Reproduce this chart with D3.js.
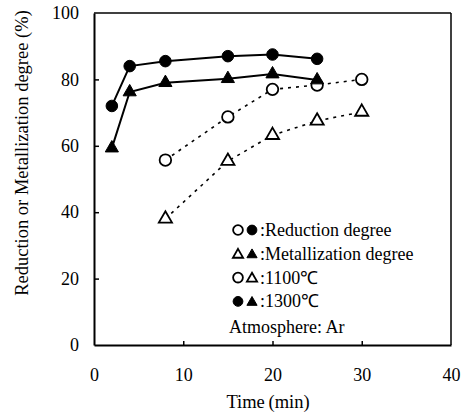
<!DOCTYPE html>
<html>
<head>
<meta charset="utf-8">
<script src="https://cdn.jsdelivr.net/npm/d3@7"></script>
<style>
body { margin: 0; background: #fff; }
</style>
</head>
<body>
<svg width="466" height="416"></svg>
<script>
// values
var xTicks = [0, 10, 20, 30, 40];
var yTicks = [0, 20, 40, 60, 80, 100];

var timeHot = [2, 4, 8, 15, 20, 25];
var reduction1300 = [72, 84, 85.5, 87, 87.5, 86.2];
var metal1300 = [59.3, 76.2, 79, 80.2, 81.6, 79.8];

var timeCold = [8, 15, 20, 25, 30];
var reduction1100 = [55.7, 68.7, 77, 78.3, 80];
var metal1100 = [38, 55.4, 63.2, 67.5, 70.2];

var legendRows = [
  {sym: ["circleOpen", "circleFilled"], label: "Reduction degree"},
  {sym: ["triOpen", "triFilled"], label: "Metallization degree"},
  {sym: ["circleOpen", "triOpen"], label: "1100\u2103"},
  {sym: ["circleFilled", "triFilled"], label: "1300\u2103"}
];

var serif = "'Liberation Serif', 'Times New Roman', serif";

var svg = d3.select("svg"),
    margin = {top: 13, right: 15, bottom: 71, left: 94},
    width = 466 - margin.left - margin.right,
    height = 416 - margin.top - margin.bottom,
    g = svg.append("g").attr("transform", "translate(" + margin.left + "," + margin.top + ")");

var x = d3.scaleLinear().domain([0, 40]).range([0, width]),
    y = d3.scaleLinear().domain([0, 100]).range([height, 0]);

// frame
g.append("line").attr("x1", 0).attr("x2", width).attr("y1", 0).attr("y2", 0)
  .attr("stroke", "#000").attr("stroke-width", 1.5);
g.append("line").attr("x1", width).attr("x2", width).attr("y1", 0).attr("y2", height)
  .attr("stroke", "#000").attr("stroke-width", 1.5);

var xAxis = g.append("g")
    .attr("transform", "translate(0," + height + ")")
    .call(d3.axisBottom(x).tickValues(xTicks).tickSizeInner(-4).tickSizeOuter(0).tickPadding(23));
var yAxis = g.append("g")
    .call(d3.axisLeft(y).tickValues(yTicks).tickSizeInner(-5).tickSizeOuter(0).tickPadding(15));

[xAxis, yAxis].forEach(function(a) {
  a.attr("font-family", serif).attr("font-size", 18);
  a.select(".domain").attr("stroke-width", 2);
  a.selectAll(".tick line").attr("stroke-width", 1.5);
  a.selectAll(".tick text").style("font-family", serif).style("font-size", "18px");
});
xAxis.selectAll(".tick").filter(function(d) { return d === 0 || d === 40; }).select("line").remove();
yAxis.selectAll(".tick").filter(function(d) { return d === 0 || d === 100; }).select("line").remove();

// axis titles
svg.append("text")
  .attr("transform", "translate(28,153) rotate(-90)")
  .attr("text-anchor", "middle")
  .style("font-family", serif)
  .style("font-size", "18.5px")
  .text("Reduction or Metallization degree (%)");

svg.append("text")
  .attr("x", 268).attr("y", 408)
  .attr("text-anchor", "middle")
  .style("font-family", serif)
  .style("font-size", "18.5px")
  .text("Time\u2009(min)");

function toPts(ts, vs) {
  return ts.map(function(t, i) { return {t: t, v: vs[i]}; });
}

var line = d3.line()
  .x(function(d) { return x(d.t); })
  .y(function(d) { return y(d.v); });

var series = [
  {pts: toPts(timeCold, reduction1100), dash: "3,5", sym: "circleOpen"},
  {pts: toPts(timeCold, metal1100), dash: "3,5", sym: "triOpen"},
  {pts: toPts(timeHot, metal1300), dash: null, sym: "triFilled"},
  {pts: toPts(timeHot, reduction1300), dash: null, sym: "circleFilled"}
];

function drawSymbol(sel, kind, size) {
  var isCircle = kind.indexOf("circle") === 0;
  var filled = kind.indexOf("Filled") > 0;
  return sel.append("path")
    .attr("d", d3.symbol().type(isCircle ? d3.symbolCircle : d3.symbolTriangle).size(size || (isCircle ? 105 : 75))())
    .attr("fill", filled ? "#000" : "#fff")
    .attr("stroke", "#000")
    .attr("stroke-width", filled ? 1 : 1.8);
}

series.forEach(function(s) {
  g.append("path")
    .datum(s.pts)
    .attr("d", line)
    .attr("fill", "none")
    .attr("stroke", "#000")
    .attr("stroke-width", s.dash ? 1.6 : 2)
    .attr("stroke-dasharray", s.dash);
  s.pts.forEach(function(d) {
    var m = g.append("g").attr("transform", "translate(" + x(d.t) + "," + y(d.v) + ")");
    drawSymbol(m, s.sym);
  });
});

// legend
var leg = svg.append("g").attr("transform", "translate(238,230)");
legendRows.forEach(function(r, i) {
  var row = leg.append("g").attr("transform", "translate(0," + (i * 23.8) + ")");
  r.sym.forEach(function(k, j) {
    var tri = k.indexOf("tri") === 0;
    var m = row.append("g").attr("transform", "translate(" + (j * 14) + "," + (tri ? 1 : 0) + ")");
    drawSymbol(m, k, tri ? 45 : 75);
  });
  row.append("text")
    .attr("x", 22).attr("y", 6)
    .style("font-family", serif)
    .style("font-size", "18px")
    .text(":" + r.label);
});

svg.append("text")
  .attr("x", 229).attr("y", 333)
  .style("font-family", serif)
  .style("font-size", "18px")
  .text("Atmosphere: Ar");
</script>
</body>
</html>
